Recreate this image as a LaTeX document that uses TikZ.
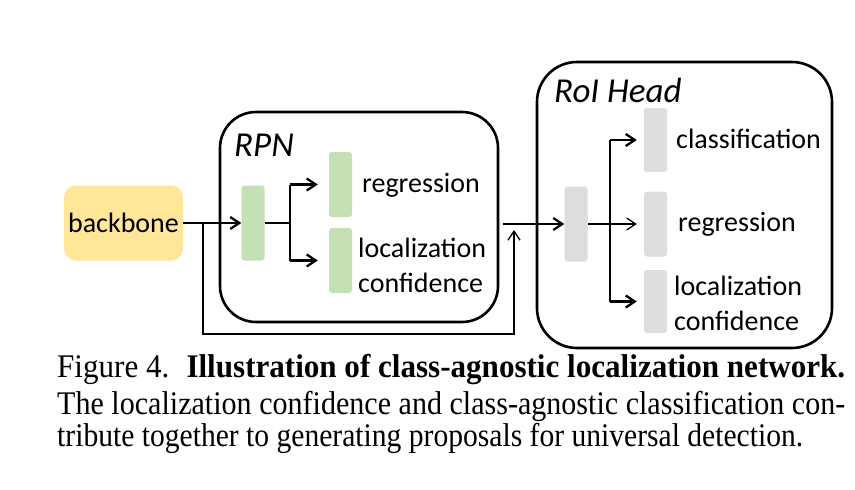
\documentclass[tikz,border=0pt]{standalone}
\usepackage{fontspec}
\usepackage{graphicx}
\usepackage{xcolor}
\setmainfont{Carlito}
\newfontfamily\capfont{Liberation Serif}
\usetikzlibrary{arrows.meta}

\definecolor{bbyellow}{HTML}{FFE699}
\definecolor{rpngreen}{HTML}{C5E0B4}
\definecolor{roigray}{HTML}{DDDDDD}

\begin{document}
\begin{tikzpicture}[x=1pt, y=-1pt,
    >={Straight Barb[length=9pt,width=12pt]},
    blk/.style={draw, line width=2.6pt, rounded corners=36pt, inner sep=0pt},
    bar/.style={rounded corners=3pt, inner sep=0pt, minimum width=23pt},
    lbl/.style={font=\fontsize{28}{35}\selectfont, inner sep=0pt, anchor=west, align=left},
    ttl/.style={font=\itshape\fontsize{35}{36}\selectfont, inner sep=0pt, anchor=west},
    captxt/.style={font=\capfont\fontsize{33}{34}\selectfont, inner sep=0pt, anchor=base west},
    thk/.style={line width=2.3pt},
    thn/.style={line width=1.3pt}]

    \useasboundingbox (0,0) rectangle (855,490);

    % =================================================================
    % 1. CAC KHOI LON: backbone, RPN, RoI Head
    % =================================================================
    \node[fill=bbyellow, rounded corners=12pt, minimum width=119pt, minimum height=75pt,
          font=\fontsize{28}{30}\selectfont] (bbone) at (123.5,223) {backbone};
    \node[blk, minimum width=278pt, minimum height=210pt] (rpn) at (359,217) {};
    \node[blk, rounded corners=40pt, minimum width=295pt, minimum height=286pt] (roi) at (684.5,205) {};

    % Ten cac khoi
    \node[ttl] (rpnname) at (234,145) {RPN};
    \node[ttl] (roiname) at (554,90) {RoI Head};

    % =================================================================
    % 2. CAC THANH (tang) BEN TRONG
    % =================================================================
    \node[bar, fill=rpngreen, minimum height=75pt] (rpnbar) at (253,223) {};
    \node[bar, fill=rpngreen, minimum height=65pt] (rpnreg) at (340.5,184.5) {};
    \node[bar, fill=rpngreen, minimum height=65pt] (rpnloc) at (340.5,260.5) {};

    \node[bar, fill=roigray, minimum height=75pt] (roibar) at (576,224) {};
    \node[bar, fill=roigray, minimum height=64pt] (roicls) at (655.5,140) {};
    \node[bar, fill=roigray, minimum height=65pt] (roireg) at (655.5,224) {};
    \node[bar, fill=roigray, minimum height=63pt] (roiloc) at (655.5,301.5) {};

    % Nhan cua cac thanh
    \node[lbl] (rpnregtxt) at (362,185) {regression};
    \node[lbl] (rpnloctxt) at (358,265.5) {localization\\confidence};
    \node[lbl] (roiclstxt) at (676,139) {classification};
    \node[lbl] (roiregtxt) at (678,224) {regression};
    \node[lbl] (roiloctxt) at (674,303.5) {localization\\confidence};

    % =================================================================
    % 3. CAC DIEM PHU CHO DUONG NOI
    % =================================================================
    \coordinate (split) at (203,223);
    \coordinate (skipbot) at (203,334);
    \coordinate (merge) at (514,230);
    \coordinate (rfork) at (290,223);
    \coordinate (qfork) at (610,224);

    % =================================================================
    % 4. DUONG NOI VA MUI TEN
    % =================================================================
    \draw[thk,->] (bbone.east) -- (rpnbar.west);
    \draw[thn,->] (split) -- (skipbot) -| (merge);

    % nhanh trong RPN
    \draw[thn] (rpnbar.east) -- (rfork);
    \draw[thn] (rfork |- rpnreg) -- (rfork |- rpnloc);
    \draw[thk,->,shorten >=11pt] (rfork |- rpnreg) -- (rpnreg.west);
    \draw[thk,->,shorten >=11pt] (rfork |- rpnloc) -- (rpnloc.west);

    % RPN -> RoI Head
    \draw[thk,->,shorten <=4pt] (rpn.east |- roibar) -- (roibar.west);

    % nhanh trong RoI Head
    \draw[thn,->,shorten >=7pt] (roibar.east) -- (roireg.west);
    \draw[thn] (qfork |- roicls) -- (qfork |- roiloc);
    \draw[thk,->,shorten >=7pt] (qfork |- roicls) -- (roicls.west);
    \draw[thk,->,shorten >=7pt] (qfork |- roiloc) -- (roiloc.west);

    % =================================================================
    % 5. CHU THICH HINH
    % =================================================================
    \node[captxt] (capa) at (57,377) {\resizebox{788pt}{\height}{Figure 4.\hspace{0.55em}\textbf{Illustration of class-agnostic localization network.}}};
    \node[captxt] (capb) at (57,414) {\resizebox{788pt}{\height}{The localization confidence and class-agnostic classification con-}};
    \node[captxt] (capc) at (57,446) {\resizebox{746pt}{\height}{tribute together to generating proposals for universal detection.}};

\end{tikzpicture}
\end{document}
